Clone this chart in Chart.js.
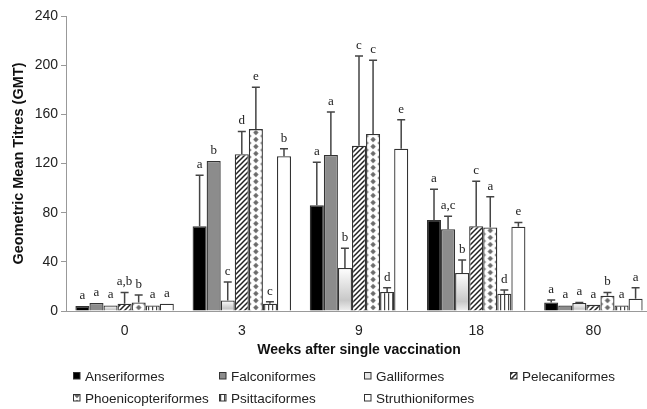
<!DOCTYPE html>
<html>
<head>
<meta charset="utf-8">
<script src="https://cdn.jsdelivr.net/npm/chart.js@4"></script>
<style>
  html, body { margin: 0; padding: 0; background: #fff; overflow: hidden; }
  #wrap { width: 652px; height: 409px; }
</style>
</head>
<body>
<div id="wrap"><canvas id="gmtChart" width="652" height="409"></canvas></div>
<script>
const weeks = ['0', '3', '9', '18', '80'];
const orders = ['Anseriformes', 'Falconiformes', 'Galliformes', 'Pelecaniformes',
                'Phoenicopteriformes', 'Psittaciformes', 'Struthioniformes'];

// GMT per order, one entry per week
const anseriformes = [4, 69, 86, 74, 7];
const falconiformes = [6.5, 122, 127, 66.5, 4.5];
const galliformes = [4.5, 8.5, 35, 31, 6.5];
const pelecaniformes = [6, 127.5, 134.5, 69, 5];
const phoenicopteriformes = [7, 148, 144, 68, 12.5];
const psittaciformes = [4.5, 6, 15.5, 14, 4.5];
const struthioniformes = [6, 126, 132, 68.5, 10];

// top of the error bars
const anseriformesErr = [4, 110.5, 121, 99, 9];
const falconiformesErr = [6.5, 122, 162, 77, 4.5];
const galliformesErr = [4.5, 23.5, 51, 41.5, 7];
const pelecaniformesErr = [15, 146, 207.5, 105.5, 5];
const phoenicopteriformesErr = [13, 182, 204, 93, 15];
const psittaciformesErr = [4.5, 7.5, 19, 17, 4.5];
const struthioniformesErr = [6, 132, 155.5, 72, 19];

// significance letters
const anseriformesSig = ['a', 'a', 'a', 'a', 'a'];
const falconiformesSig = ['a', 'b', 'a', 'a,c', 'a'];
const galliformesSig = ['a', 'c', 'b', 'b', 'a'];
const pelecaniformesSig = ['a,b', 'd', 'c', 'c', 'a'];
const phoenicopteriformesSig = ['b', 'e', 'c', 'a', 'b'];
const psittaciformesSig = ['a', 'c', 'd', 'd', 'a'];
const struthioniformesSig = ['a', 'b', 'e', 'e', 'a'];

const yTicks = [0, 40, 80, 120, 160, 200, 240];
const groupShare = 0.84;

const tile = (w, h, draw) => {
  const c = document.createElement('canvas');
  c.width = w; c.height = h;
  const g = c.getContext('2d');
  draw(g);
  return g.createPattern(c, 'repeat');
};

const stripes = tile(5, 5, g => {
  g.fillStyle = '#fff'; g.fillRect(0, 0, 5, 5);
  g.strokeStyle = '#222'; g.lineWidth = 1.5;
  g.beginPath();
  g.moveTo(-1, 6); g.lineTo(6, -1);
  g.moveTo(-3.5, 3.5); g.lineTo(3.5, -3.5);
  g.moveTo(1.5, 8.5); g.lineTo(8.5, 1.5);
  g.stroke();
});

const diamondTile = () => tile(14, 7, g => {
  g.fillStyle = '#fff'; g.fillRect(0, 0, 14, 7);
  g.fillStyle = '#6a6a6a';
  const d = (x, y) => {
    g.beginPath();
    g.moveTo(x, y - 2.7); g.lineTo(x + 2.7, y); g.lineTo(x, y + 2.7); g.lineTo(x - 2.7, y);
    g.closePath(); g.fill();
  };
  d(7, 3.5); d(0, 0); d(14, 0); d(0, 7); d(14, 7);
});
const diamondLegend = diamondTile();

// anchor the diamond tile to each bar so the column sits in the middle
const diamonds = ctx => {
  const chart = ctx.chart;
  if (!chart.chartArea || ctx.dataIndex === undefined) return '#aaa';
  const xs = chart.scales.x;
  const bw = xs.width / weeks.length * groupShare / orders.length;
  const cx = xs.getPixelForValue(ctx.dataIndex) + (ctx.datasetIndex - (orders.length - 1) / 2) * bw;
  const p = diamondTile();
  p.setTransform(new DOMMatrix().translate(cx - 7, chart.scales.y.getPixelForValue(0)));
  return p;
};

const vstripes = tile(4, 4, g => {
  g.fillStyle = '#fff'; g.fillRect(0, 0, 4, 4);
  g.fillStyle = '#444'; g.fillRect(0, 0, 1.2, 4);
});

const shaded = ctx => {
  const chart = ctx.chart;
  if (!chart.chartArea || ctx.parsed === undefined) return '#e4e4e4';
  const y = chart.scales.y;
  const top = y.getPixelForValue(ctx.parsed.y);
  const bottom = y.getPixelForValue(0);
  const gr = chart.ctx.createLinearGradient(0, top, 0, bottom);
  gr.addColorStop(0, '#ffffff');
  gr.addColorStop(0.75, '#c8c8c8');
  gr.addColorStop(1, '#f0f0f0');
  return gr;
};

const values = [anseriformes, falconiformes, galliformes, pelecaniformes,
                phoenicopteriformes, psittaciformes, struthioniformes];
const errs = [anseriformesErr, falconiformesErr, galliformesErr, pelecaniformesErr,
              phoenicopteriformesErr, psittaciformesErr, struthioniformesErr];
const sigs = [anseriformesSig, falconiformesSig, galliformesSig, pelecaniformesSig,
              phoenicopteriformesSig, psittaciformesSig, struthioniformesSig];
const fills = ['#000', '#8c8c8c', shaded, stripes, diamonds, vstripes, '#fff'];
const legendFills = ['#000', '#8c8c8c', '#e6e6e6', stripes, diamondLegend, vstripes, '#fff'];

const errorBars = {
  id: 'errorBars',
  afterDatasetsDraw(chart) {
    const c = chart.ctx;
    const y = chart.scales.y;
    c.save();
    chart.data.datasets.forEach((ds, i) => {
      chart.getDatasetMeta(i).data.forEach((bar, j) => {
        const top = y.getPixelForValue(errs[i][j]);
        if (errs[i][j] > values[i][j] + 0.3) {
          c.strokeStyle = '#444'; c.lineWidth = 1.5;
          c.beginPath();
          c.moveTo(bar.x, bar.y); c.lineTo(bar.x, top);
          c.moveTo(bar.x - 4, top); c.lineTo(bar.x + 4, top);
          c.stroke();
        }
        c.fillStyle = '#222';
        c.font = '13px "Liberation Serif", serif';
        c.textAlign = 'center';
        c.textBaseline = 'bottom';
        c.fillText(sigs[i][j], bar.x, Math.min(top, bar.y) - 4);
      });
    });
    c.restore();
  }
};

const gridLegend = {
  id: 'gridLegend',
  afterDraw(chart) {
    const c = chart.ctx;
    const cols = [73, 219, 364, 510];
    const rows = [376, 398];
    c.save();
    c.font = '13.5px "Liberation Sans", Arial, sans-serif';
    c.textBaseline = 'middle';
    c.textAlign = 'left';
    orders.forEach((name, k) => {
      const x = cols[k % 4], yy = rows[Math.floor(k / 4)];
      c.fillStyle = legendFills[k];
      c.fillRect(x, yy - 4, 7, 7);
      c.strokeStyle = '#333'; c.lineWidth = 1;
      c.strokeRect(x + 0.5, yy - 3.5, 6.5, 6.5);
      c.fillStyle = '#222';
      c.fillText(name, x + 12, yy + 1);
    });
    c.restore();
  }
};

new Chart('gmtChart', {
  type: 'bar',
  data: {
    labels: weeks,
    datasets: orders.map((name, i) => ({
      label: name,
      data: values[i],
      backgroundColor: fills[i],
      borderColor: '#333',
      borderWidth: 1.3,
      categoryPercentage: groupShare,
      barPercentage: 1.0
    }))
  },
  options: {
    responsive: false,
    animation: false,
    layout: { padding: { top: 16, right: 0, bottom: 50, left: 0 } },
    plugins: {
      legend: { display: false },
      tooltip: { enabled: false }
    },
    scales: {
      x: {
        grid: { display: false, drawOnChartArea: false, offset: true, tickLength: 5, color: '#999' },
        border: { color: '#999', width: 1 },
        ticks: { color: '#222', font: { family: '"Liberation Sans", Arial, sans-serif', size: 14 }, padding: 7 },
        title: {
          display: true,
          text: 'Weeks after single vaccination',
          color: '#111',
          font: { family: '"Liberation Sans", Arial, sans-serif', size: 14, weight: 'bold' },
          padding: { top: 0, bottom: 0 }
        },
        afterFit: s => { s.height = 48; }
      },
      y: {
        min: 0, max: 240,
        afterBuildTicks: s => { s.ticks = yTicks.map(v => ({ value: v })); },
        grid: { drawOnChartArea: false, tickLength: 5, color: '#999' },
        border: { color: '#999', width: 1 },
        ticks: { color: '#222', font: { family: '"Liberation Sans", Arial, sans-serif', size: 14 }, padding: 3 },
        title: {
          display: true,
          text: 'Geometric Mean Titres (GMT)',
          color: '#111',
          font: { family: '"Liberation Sans", Arial, sans-serif', size: 14.5, weight: 'bold' },
          padding: { top: 10, bottom: 2 }
        },
        afterFit: s => { s.width = 66; }
      }
    }
  },
  plugins: [errorBars, gridLegend]
});
</script>
</body>
</html>
